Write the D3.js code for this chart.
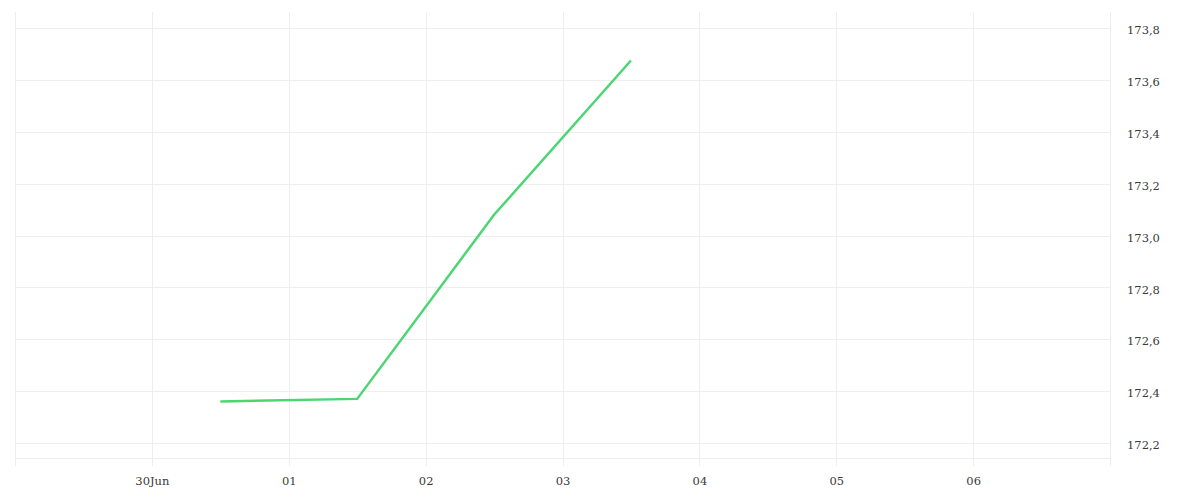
<!DOCTYPE html>
<html>
<head>
<meta charset="utf-8">
<script src="https://cdn.jsdelivr.net/npm/d3@7"></script>
<style>
  body { margin: 0; background: #fff; }
  .axis text { font-family: "DejaVu Serif", serif; font-size: 11.5px; fill: #3a3a3a; }
  .axis path, .axis line { stroke: none; }
</style>
</head>
<body>
<div id="chart"></div>
<script>
// data
var dates = ["2025-06-30T12:00", "2025-07-01T12:00", "2025-07-02T12:00", "2025-07-03T12:00"];
var prices = [172.36, 172.37, 173.08, 173.675];
var yTicks = [172.2, 172.4, 172.6, 172.8, 173.0, 173.2, 173.4, 173.6, 173.8];
var xTicks = ["2025-06-30", "2025-07-01", "2025-07-02", "2025-07-03", "2025-07-04", "2025-07-05", "2025-07-06"];

var width = 1200, height = 500;
var plotLeft = 15, plotRight = 1110, plotTop = 12, plotBottom = 458;

var parse = d3.timeParse("%Y-%m-%dT%H:%M");
var parseDay = d3.timeParse("%Y-%m-%d");
var points = dates.map(function(d, i) { return {date: parse(d), value: prices[i]}; });

var svg = d3.select("#chart").append("svg")
            .attr("width", width).attr("height", height);

var xScale = d3.scaleTime()
  .domain([parseDay("2025-06-29"), parseDay("2025-07-07")])
  .range([plotLeft, plotRight]);
var yScale = d3.scaleLinear().domain([172.142, 173.862]).range([plotBottom, plotTop]);

var grid = svg.append("g").attr("stroke", "#eeeeee").attr("stroke-width", 1);

// horizontal grid lines
grid.selectAll("line.h")
  .data(yTicks.concat([172.142]))
  .enter().append("line")
  .attr("class", "h")
  .attr("x1", plotLeft).attr("x2", plotRight)
  .attr("y1", function(d) { return Math.round(yScale(d)) + 0.5; })
  .attr("y2", function(d) { return Math.round(yScale(d)) + 0.5; });

// vertical grid lines
var vLines = [parseDay("2025-06-29")].concat(xTicks.map(parseDay), [parseDay("2025-07-07")]);
grid.selectAll("line.v")
  .data(vLines)
  .enter().append("line")
  .attr("class", "v")
  .attr("x1", function(d) { return Math.round(xScale(d)) + 0.5; })
  .attr("x2", function(d) { return Math.round(xScale(d)) + 0.5; })
  .attr("y1", plotTop).attr("y2", 466);

var dayFmt = d3.timeFormat("%d"), monFmt = d3.timeFormat("%d%b");
var xAxis = d3.axisBottom(xScale)
  .tickValues(xTicks.map(parseDay))
  .tickSize(0).tickPadding(0)
  .tickFormat(function(d, i) { return i === 0 ? monFmt(d) : dayFmt(d); });

svg.append("g")
  .attr("class", "axis")
  .attr("transform", "translate(0,477)")
  .call(xAxis);

var yAxis = d3.axisRight(yScale)
  .tickValues(yTicks)
  .tickSize(0).tickPadding(17)
  .tickFormat(function(d) { return d3.format(".1f")(d).replace(".", ","); });

svg.append("g")
  .attr("class", "axis")
  .attr("transform", "translate(" + plotRight + ",2)")
  .call(yAxis);

var line = d3.line()
  .x(function(d) { return xScale(d.date); })
  .y(function(d) { return yScale(d.value); });

svg.append("path")
  .datum(points)
  .attr("fill", "none")
  .attr("stroke", "#4cd673")
  .attr("stroke-width", 2.5)
  .attr("d", line);
</script>
</body>
</html>
